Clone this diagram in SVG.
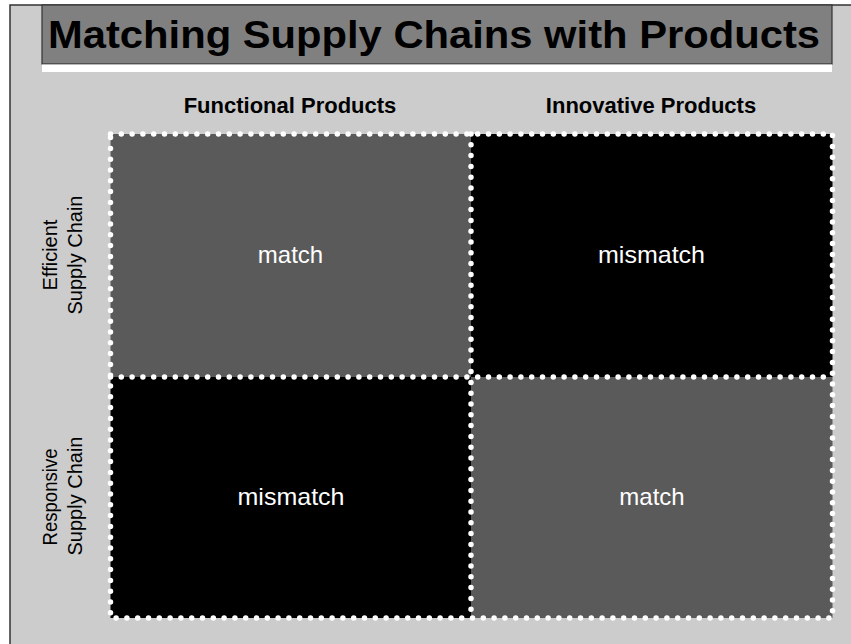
<svg xmlns="http://www.w3.org/2000/svg" width="851" height="644" viewBox="0 0 851 644">
  <style>
    .bg { fill: #cccccc; }
    .title { font-family: "Liberation Sans", Arial, sans-serif; font-weight: bold; font-size: 39px; fill: #000; text-anchor: middle; }
    .colhdr { font-family: "Liberation Sans", Arial, sans-serif; font-weight: bold; font-size: 22px; fill: #000; text-anchor: middle; }
    .rowhdr { font-family: "Liberation Sans", Arial, sans-serif; font-size: 20px; fill: #000; text-anchor: middle; }
    .cell-text { font-family: "Liberation Sans", Arial, sans-serif; font-size: 24px; fill: #fff; text-anchor: middle; }
    .gray { fill: #5a5a5a; }
    .black { fill: #000; }
    .dots { fill: none; stroke: #fff; stroke-width: 5.5; stroke-linecap: round; stroke-dasharray: 0 10.8; }
  </style>
  <rect x="0" y="0" width="851" height="644" fill="#ffffff"/>
  <rect class="bg" x="10" y="5" width="845" height="645" stroke="#333333" stroke-width="1.5"/>

  <g id="title">
    <rect x="42" y="5" width="790" height="59" fill="#808080" stroke="#333333" stroke-width="1.2"/>
    <rect x="42" y="64.5" width="790" height="7.5" fill="#ffffff"/>
    <text class="title" x="434" y="48" textLength="772" lengthAdjust="spacingAndGlyphs">Matching Supply Chains with Products</text>
  </g>

  <g id="col-functional">
    <text class="colhdr" x="290" y="113">Functional Products</text>
  </g>
  <g id="col-innovative">
    <text class="colhdr" x="651" y="113">Innovative Products</text>
  </g>

  <g id="row-efficient">
    <text class="rowhdr" transform="translate(57,255) rotate(-90)">Efficient</text>
    <text class="rowhdr" transform="translate(82,255) rotate(-90)">Supply Chain</text>
  </g>
  <g id="row-responsive">
    <text class="rowhdr" transform="translate(57,497) rotate(-90)" textLength="97" lengthAdjust="spacingAndGlyphs">Responsive</text>
    <text class="rowhdr" transform="translate(82,496) rotate(-90)">Supply Chain</text>
  </g>

  <g id="cell-tl">
    <rect class="gray" x="110.5" y="134" width="360.5" height="243"/>
    <text class="cell-text" x="290.5" y="263">match</text>
  </g>
  <g id="cell-tr">
    <rect class="black" x="471" y="134" width="361.5" height="243"/>
    <text class="cell-text" x="651.5" y="263" textLength="107" lengthAdjust="spacingAndGlyphs">mismatch</text>
  </g>
  <g id="cell-bl">
    <rect class="black" x="110.5" y="377" width="360.5" height="241"/>
    <text class="cell-text" x="291" y="505" textLength="107" lengthAdjust="spacingAndGlyphs">mismatch</text>
  </g>
  <g id="cell-br">
    <rect class="gray" x="471" y="377" width="361.5" height="241"/>
    <text class="cell-text" x="652" y="505">match</text>
  </g>

  <g id="connectors">
    <rect class="dots" x="110.5" y="134" width="722" height="484"/>
    <line class="dots" x1="471" y1="134" x2="471" y2="618"/>
    <line class="dots" x1="110.5" y1="377" x2="832.5" y2="377"/>
  </g>
</svg>
